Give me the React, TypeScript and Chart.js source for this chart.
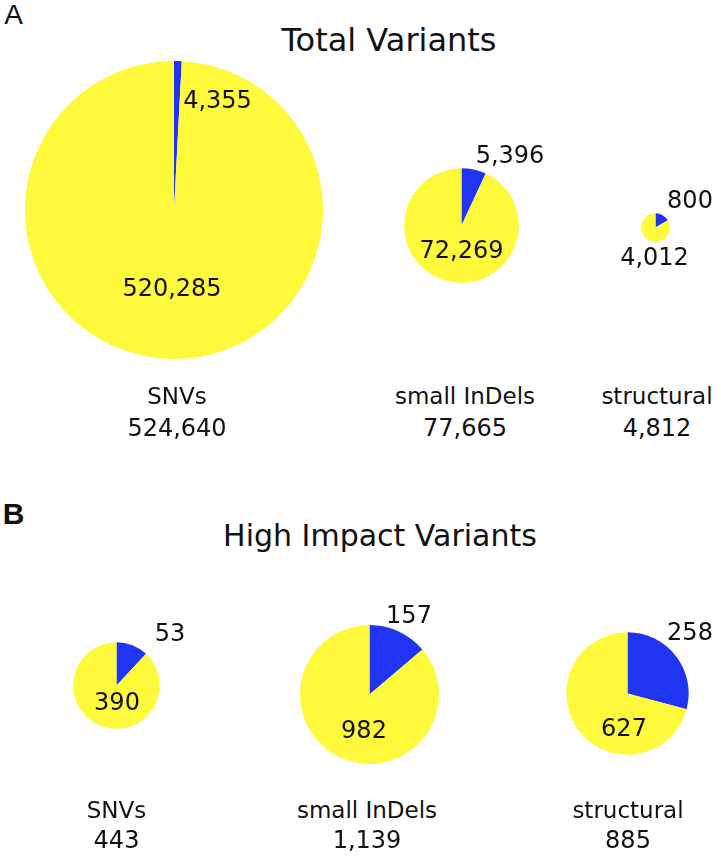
import React, { useEffect, useRef } from "react";
import { Chart, registerables } from "chart.js";

Chart.register(...registerables);

// ---- data ----
const categories = ["SNVs", "small InDels", "structural"];
const panelLetters = ["A", "B"];
const panelTitles = ["Total Variants", "High Impact Variants"];
const totalBlue = [4355, 5396, 800];
const totalYellow = [520285, 72269, 4012];
const totalSums = [524640, 77665, 4812];
const highBlue = [53, 157, 258];
const highYellow = [390, 982, 627];
const highSums = [443, 1139, 885];

// ---- styles / layout ----
const BLUE = "#2035F2";
const YELLOW = "#FEF93B";
const FONT = "'DejaVu Sans', 'Lucida Grande', sans-serif";
const LETTER_FONT = "'Liberation Sans', Arial, sans-serif";

const panels = [
  {
    blue: totalBlue,
    yellow: totalYellow,
    sums: totalSums,
    scale: 149 / Math.sqrt(524640),
    letter: { x: 13.5, y: 15, size: 28, bold: false },
    title: { x: 389, y: 40, size: 32 },
    centers: [
      { cx: 174, cy: 210, blueOff: [43.5, -110], yellowOff: [-2, 78] },
      { cx: 461, cy: 225, blueOff: [49, -70], yellowOff: [0.5, 25] },
      { cx: 655, cy: 227, blueOff: [35, -27], yellowOff: [-0.5, 30] },
    ],
    nameX: [177, 465, 657],
    nameY: 396,
    sumY: 427.5,
  },
  {
    blue: highBlue,
    yellow: highYellow,
    sums: highSums,
    scale: 43.3 / Math.sqrt(443),
    letter: { x: 13.5, y: 514, size: 30, bold: true },
    title: { x: 380, y: 536, size: 30 },
    centers: [
      { cx: 116.5, cy: 685, blueOff: [53.5, -52], yellowOff: [0.5, 17] },
      { cx: 369, cy: 694.5, blueOff: [40, -79.5], yellowOff: [-5, 35.5] },
      { cx: 627, cy: 693, blueOff: [63, -61], yellowOff: [-3, 35] },
    ],
    nameX: [116.5, 367, 628],
    nameY: 810,
    sumY: 840,
  },
];

const fmt = (v: number) => v.toLocaleString("en-US");

function Pie({ values, r, cx, cy }: { values: number[]; r: number; cx: number; cy: number }) {
  const ref = useRef<HTMLCanvasElement>(null);
  const size = Math.ceil(2 * r + 6);
  useEffect(() => {
    const chart = new Chart(ref.current!, {
      type: "pie",
      data: {
        labels: ["highlighted", "other"],
        datasets: [
          {
            data: values,
            backgroundColor: [BLUE, YELLOW],
            borderWidth: 0,
            hoverOffset: 0,
          },
        ],
      },
      options: {
        responsive: false,
        maintainAspectRatio: false,
        animation: false,
        radius: r,
        events: [],
        layout: { padding: 0 },
        plugins: { legend: { display: false }, tooltip: { enabled: false }, title: { display: false } },
      } as any,
    });
    return () => chart.destroy();
  }, []);
  return (
    <canvas
      ref={ref}
      width={size}
      height={size}
      style={{ position: "absolute", left: cx - size / 2, top: cy - size / 2, width: size, height: size }}
    />
  );
}

function Label({ x, y, text, size = 24, font = FONT, bold = false }: any) {
  return (
    <div
      style={{
        position: "absolute",
        left: x,
        top: y,
        transform: "translate(-50%, -50%)",
        fontFamily: font,
        fontSize: size,
        fontWeight: bold ? "bold" : "normal",
        lineHeight: 1,
        whiteSpace: "nowrap",
        color: "#111",
      }}
    >
      {text}
    </div>
  );
}

export default function App() {
  return (
    <div style={{ position: "absolute", left: 0, top: 0, width: 717, height: 856, background: "#fff", overflow: "hidden" }}>
      {panels.map((p, pi) => (
        <React.Fragment key={pi}>
          <Label x={p.letter.x} y={p.letter.y} text={panelLetters[pi]} size={p.letter.size} font={LETTER_FONT} bold={p.letter.bold} />
          <Label x={p.title.x} y={p.title.y} text={panelTitles[pi]} size={p.title.size} />
          {categories.map((cat, i) => {
            const c = p.centers[i];
            const r = p.scale * Math.sqrt(p.sums[i]);
            return (
              <React.Fragment key={cat}>
                <Pie values={[p.blue[i], p.yellow[i]]} r={r} cx={c.cx} cy={c.cy} />
                <Label x={c.cx + c.blueOff[0]} y={c.cy + c.blueOff[1]} text={fmt(p.blue[i])} />
                <Label x={c.cx + c.yellowOff[0]} y={c.cy + c.yellowOff[1]} text={fmt(p.yellow[i])} />
                <Label x={p.nameX[i]} y={p.nameY} text={cat} size={23} />
                <Label x={p.nameX[i]} y={p.sumY} text={fmt(p.sums[i])} />
              </React.Fragment>
            );
          })}
        </React.Fragment>
      ))}
    </div>
  );
}
